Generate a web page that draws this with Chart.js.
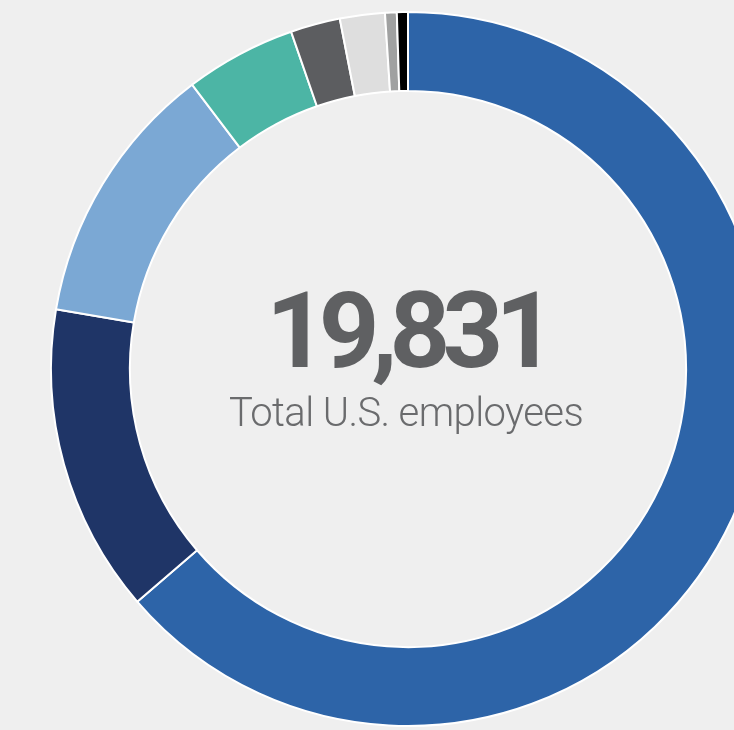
<!DOCTYPE html>
<html>
<head>
<meta charset="utf-8">
<script src="https://cdn.jsdelivr.net/npm/chart.js@4"></script>
<style>
  html, body { margin: 0; padding: 0; }
  body {
    width: 734px; height: 730px; overflow: hidden;
    background: #efefef; position: relative;
    font-family: Roboto, "Liberation Sans", sans-serif;
  }
  #wrap { position: absolute; left: 28px; top: -11px; width: 760px; height: 760px; }
  #total {
    position: absolute; left: 0; width: 814px; top: 278px;
    text-align: center; font-size: 106px; line-height: 106px;
    font-weight: 700; color: #5f6062; letter-spacing: -8px;
  }
  #caption {
    position: absolute; left: 0; width: 812px; top: 393px;
    text-align: center; font-size: 40px; line-height: 40px;
    font-weight: 300; color: #6a6b6d; letter-spacing: -0.6px;
  }
</style>
</head>
<body>
<div id="wrap"><canvas id="ring" width="760" height="760"></canvas></div>
<div id="total"></div>
<div id="caption">Total U.S. employees</div>
<script>
// headcount per group, clockwise from 12 o'clock
const groups = ['Group 1', 'Group 2', 'Group 3', 'Group 4', 'Group 5', 'Group 6', 'Group 7', 'Group 8'];
const headcount = [12633, 2770, 2378, 997, 446, 403, 105, 99];
const colors = ['#2d64a8', '#1f3567', '#7ba8d4', '#4cb5a5', '#5c5d60', '#dedede', '#a0a1a1', '#000000'];

const total = headcount.reduce((a, b) => a + b, 0);
document.getElementById('total').textContent = total.toLocaleString('en-US');

new Chart(document.getElementById('ring').getContext('2d'), {
  type: 'doughnut',
  data: {
    labels: groups,
    datasets: [{
      data: headcount,
      backgroundColor: colors,
      borderColor: '#ffffff',
      borderWidth: 2
    }]
  },
  options: {
    responsive: false,
    animation: false,
    radius: 357,
    cutout: '77.9%',
    layout: { padding: 0 },
    plugins: {
      legend: { display: false },
      tooltip: { enabled: false }
    }
  }
});
</script>
</body>
</html>
